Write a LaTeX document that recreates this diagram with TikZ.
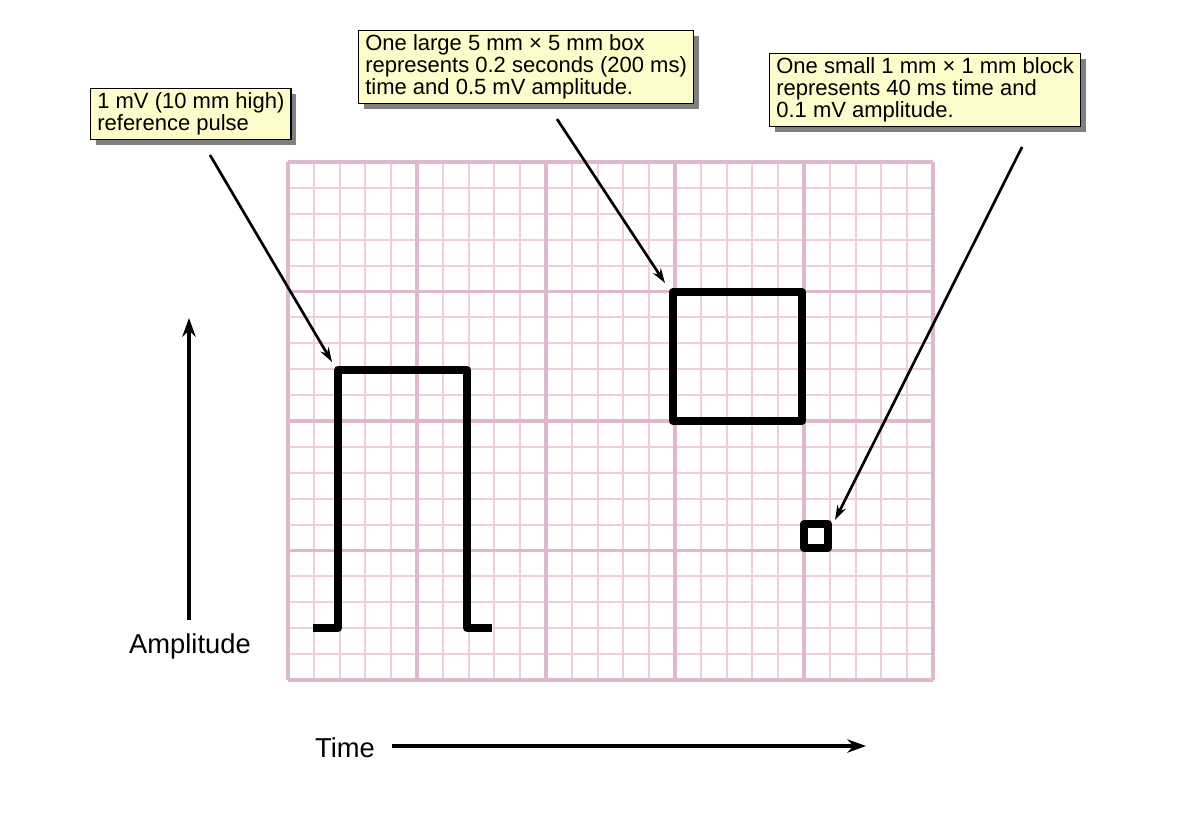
\documentclass[tikz,border=0pt]{standalone}
\usepackage{fontspec}
\setmainfont{Liberation Sans}
\usetikzlibrary{shadows,arrows.meta}
\begin{document}
\begin{tikzpicture}[x=0.75pt,y=-0.75pt,
  callout/.style={draw=black,fill=yellow!20,line width=1pt,align=left,anchor=north west,inner xsep=5pt,inner ysep=3pt,font=\fontsize{16.5}{16.5}\selectfont,
    drop shadow={shadow xshift=4pt,shadow yshift=-4pt,fill=black!50,opacity=1}},
  ptr/.style={line width=2pt,-{Stealth[length=11pt,width=7pt]}},
  trace/.style={line width=6pt,line cap=round,line join=round}]
\useasboundingbox (0,0) rectangle (1184,814);
% grid
\foreach \i in {0,...,25}{\draw[color={rgb,255:red,236;green,206;blue,222},line width=1.6pt] ({288+\i*25.8},162) -- ({288+\i*25.8},680);}
\foreach \j in {0,...,20}{\draw[color={rgb,255:red,236;green,206;blue,222},line width=1.6pt] (288,{162+\j*25.9}) -- (933,{162+\j*25.9});}
\foreach \i in {0,...,5}{\draw[color={rgb,255:red,222;green,184;blue,204},line width=2.5pt] ({288+\i*129},162) -- ({288+\i*129},680);}
\foreach \j in {0,...,4}{\draw[color={rgb,255:red,222;green,184;blue,204},line width=2.5pt] (288,{162+\j*129.5}) -- (933,{162+\j*129.5});}
% traces
\draw[trace,line cap=butt] (313,628) -- (338,628) -- (338,370) -- (467,370) -- (467,628) -- (492,628);
\draw[trace] (673,292) rectangle (802,421);
\draw[trace] (804,524) rectangle (828,548);
% callouts
\node[callout] (c1) at (90,88) {1 mV (10 mm high)\\reference pulse};
\node[callout] (c2) at (358,30) {One large 5 mm × 5 mm box\\represents 0.2 seconds (200 ms)\\time and 0.5 mV amplitude.};
\node[callout] (c3) at (769,53) {One small 1 mm × 1 mm block\\represents 40 ms time and\\0.1 mV amplitude.};
\coordinate (t1) at (332,362);
\coordinate (t2) at (665,283);
\coordinate (t3) at (835,520);
\draw[ptr] (210,155) -- (t1);
\draw[ptr] (557,119) -- (t2);
\draw[ptr] (1022,147) -- (t3);
% axes
\node[font=\fontsize{20.5}{22}\selectfont] (amp) at (190,646) {Amplitude};
\node[font=\fontsize{20.5}{22}\selectfont] (time) at (345,748) {Time};
\coordinate (atop) at (189,318);
\coordinate (tend) at (866,746);
\draw[line width=3pt,-{Stealth[length=14pt,width=10pt]}] (189,620) -- (atop);
\draw[line width=3pt,-{Stealth[length=14pt,width=10pt]}] (392,746) -- (tend);
\end{tikzpicture}
\end{document}
